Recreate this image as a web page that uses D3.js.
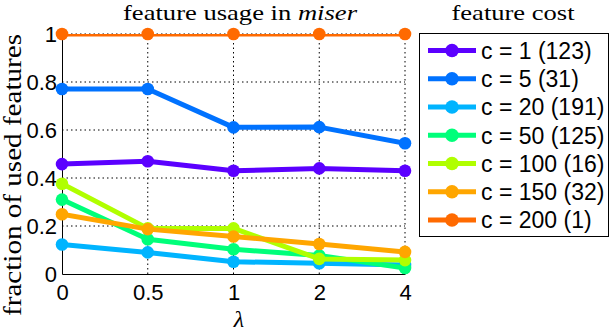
<!DOCTYPE html>
<html lang="en">
<head>
  <meta charset="UTF-8">
  <title>feature usage in miser</title>
  <style>
    body { margin: 0; background: #fff; }
    svg { display: block; }
    .grid line { stroke: #000; stroke-width: 1; stroke-dasharray: 1.5,3; }
  </style>
</head>
<body>
  <div id="chart"></div>
  <script src="https://d3js.org/d3.v7.min.js"></script>
  <script>
    // lambda values (x categories)
    const lambdas = ["0", "0.5", "1", "2", "4"];
    const yTicks = [0, 0.2, 0.4, 0.6, 0.8, 1];

    // feature cost groups and how many features in each
    const costs = [1, 5, 20, 50, 100, 150, 200];
    const counts = [123, 31, 191, 125, 16, 32, 1];
    const colors = ["#5b00ff", "#0072ff", "#00b4ff", "#00ff7a", "#b0ff00", "#ffa600", "#ff6a00"];

    // fraction of used features, one array per cost group
    const c1 = [0.458, 0.470, 0.430, 0.440, 0.430];
    const c5 = [0.771, 0.771, 0.611, 0.612, 0.545];
    const c20 = [0.123, 0.090, 0.051, 0.045, 0.038];
    const c50 = [0.310, 0.145, 0.103, 0.077, 0.025];
    const c100 = [0.376, 0.190, 0.190, 0.063, 0.058];
    const c150 = [0.249, 0.187, 0.156, 0.125, 0.092];
    const c200 = [1, 1, 1, 1, 1];
    const series = [c1, c5, c20, c50, c100, c150, c200];

    const W = 610, H = 334;
    const pLeft = 62, pRight = 405, pTop = 34, pBottom = 274;
    const SANS = '"Liberation Sans", Arial, sans-serif';
    const SERIF = '"Liberation Serif", "Times New Roman", serif';

    const svg = d3.select("#chart").append("svg")
      .attr("width", W).attr("height", H);

    const x = d3.scalePoint().domain(lambdas).range([pLeft, pRight]);
    const y = d3.scaleLinear().domain([0, 1]).range([pBottom, pTop]);

    // dotted grid
    const grid = svg.append("g").attr("class", "grid");
    grid.selectAll(".gx").data(lambdas.slice(1)).enter().append("line")
      .attr("x1", d => x(d)).attr("x2", d => x(d))
      .attr("y1", pTop).attr("y2", pBottom);
    grid.selectAll(".gy").data(yTicks.slice(1)).enter().append("line")
      .attr("x1", pLeft).attr("x2", pRight)
      .attr("y1", d => y(d)).attr("y2", d => y(d));

    // axes
    svg.append("g")
      .attr("transform", "translate(" + pLeft + ",0)")
      .call(d3.axisLeft(y).tickValues(yTicks).tickSize(0).tickPadding(5)
        .tickFormat(d => d3.format("~g")(d)))
      .call(g => g.select(".domain").attr("stroke", "#000"))
      .selectAll("text")
      .attr("dy", "0.36em")
      .style("font-family", SANS).style("font-size", "22px").attr("fill", "#000");

    svg.append("g")
      .attr("transform", "translate(0," + pBottom + ")")
      .call(d3.axisBottom(x).tickSize(0).tickPadding(10))
      .call(g => g.select(".domain").attr("stroke", "#000"))
      .selectAll("text")
      .attr("dy", "0.71em")
      .style("font-family", SANS).style("font-size", "22px").attr("fill", "#000");

    // lines are clipped to the axes box, markers are not
    svg.append("clipPath").attr("id", "plotclip")
      .append("rect").attr("x", pLeft).attr("y", pTop)
      .attr("width", pRight - pLeft).attr("height", pBottom - pTop);

    const line = d3.line().x((d, i) => x(lambdas[i])).y(d => y(d));

    series.forEach(function (vals, k) {
      svg.append("path")
        .attr("d", line(vals))
        .attr("clip-path", "url(#plotclip)")
        .attr("fill", "none")
        .attr("stroke", colors[k])
        .attr("stroke-width", 5)
        .attr("stroke-linejoin", "round");
      svg.selectAll(".m" + k).data(vals).enter().append("circle")
        .attr("cx", (d, i) => x(lambdas[i]))
        .attr("cy", d => y(d))
        .attr("r", 6.3)
        .attr("fill", colors[k]);
    });

    // titles
    const title = svg.append("text")
      .attr("x", 240).attr("y", 20)
      .attr("text-anchor", "middle")
      .attr("textLength", 234).attr("lengthAdjust", "spacingAndGlyphs")
      .style("font-family", SERIF).style("font-size", "22px");
    title.append("tspan").text("feature usage in ");
    title.append("tspan").style("font-style", "italic").text("miser");

    svg.append("text")
      .attr("transform", "translate(21,175) rotate(-90)")
      .attr("text-anchor", "middle")
      .style("font-family", SERIF).style("font-size", "25px")
      .attr("textLength", 282).attr("lengthAdjust", "spacingAndGlyphs")
      .text("fraction of used features");

    svg.append("text")
      .attr("x", 239).attr("y", 327)
      .attr("text-anchor", "middle")
      .style("font-family", SERIF).style("font-size", "24px")
      .style("font-style", "italic")
      .text("λ");

    // legend
    svg.append("text")
      .attr("x", 513).attr("y", 20)
      .attr("text-anchor", "middle")
      .attr("textLength", 123).attr("lengthAdjust", "spacingAndGlyphs")
      .style("font-family", SERIF).style("font-size", "22px")
      .text("feature cost");

    svg.append("rect")
      .attr("x", 419.5).attr("y", 33.5)
      .attr("width", 189).attr("height", 203)
      .attr("fill", "#fff").attr("stroke", "#000").attr("stroke-width", 1);

    const ly = d3.scalePoint().domain(costs).range([50.5, 220]);
    const leg = svg.selectAll(".leg").data(costs).enter().append("g")
      .attr("transform", d => "translate(0," + ly(d) + ")");
    leg.append("line")
      .attr("x1", 428).attr("x2", 476)
      .attr("stroke", (d, i) => colors[i]).attr("stroke-width", 5);
    leg.append("circle")
      .attr("cx", 452).attr("r", 6.8)
      .attr("fill", (d, i) => colors[i]);
    leg.append("text")
      .attr("x", 481).attr("dy", "0.36em")
      .style("font-family", SANS).style("font-size", "23px").attr("fill", "#000")
      .text((d, i) => "c = " + d + " (" + counts[i] + ")");
  </script>
</body>
</html>
